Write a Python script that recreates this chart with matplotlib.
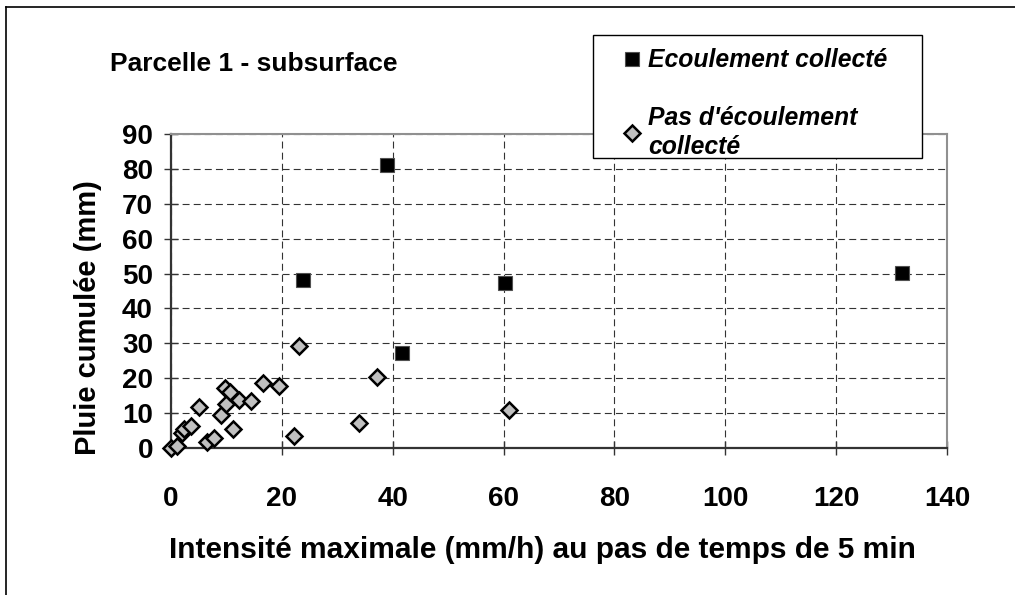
import matplotlib
matplotlib.use("Agg")
import matplotlib.pyplot as plt
from matplotlib.lines import Line2D
from matplotlib.patches import Rectangle

plt.rcParams['font.family'] = ['Liberation Sans', 'DejaVu Sans']
plt.rcParams['lines.scale_dashes'] = False

# Data
flow_x = [23.8, 39.0, 41.6, 60.2, 131.8]
flow_y = [48.1, 81.0, 27.1, 47.4, 50.1]

noflow_x = [0.0, 1.0, 2.0, 2.4, 3.6, 5.0, 6.5, 7.8, 9.1, 9.9, 9.7, 10.6, 11.2,
            12.3, 14.5, 16.6, 19.4, 22.2, 23.1, 33.9, 37.2, 61.0]
noflow_y = [0.0, 0.6, 4.4, 5.4, 6.4, 11.8, 1.6, 3.0, 9.5, 12.6, 17.3, 16.0, 5.4,
            13.7, 13.5, 18.7, 17.8, 3.3, 29.2, 7.3, 20.4, 10.9]

x_ticks = [0, 20, 40, 60, 80, 100, 120, 140]
y_ticks = [0, 10, 20, 30, 40, 50, 60, 70, 80, 90]

W, H = 1015, 595
fig = plt.figure(figsize=(W / 100, H / 100), dpi=100)
ax = fig.add_axes([171 / W, (H - 448) / H, (947 - 171) / W, (448 - 134) / H])

ax.plot(noflow_x, noflow_y, 'D', ms=8, mfc='#c0c0c0', mec='black', mew=1.8,
        label="Pas d'écoulement\ncollecté", zorder=3, clip_on=False)
ax.plot(flow_x, flow_y, 's', ms=10, mfc='black', mec='#505050', mew=0.8,
        label='Ecoulement collecté', zorder=4, clip_on=False)

ax.set_xlim(0, 140)
ax.set_ylim(0, 90)
ax.set_xticks(x_ticks)
ax.set_yticks(y_ticks)

ax.grid(True, color='#333333', lw=0.8, linestyle=(0, (5, 3)))
ax.set_axisbelow(True)

for s in ['top', 'right']:
    ax.spines[s].set_color('#909090')
    ax.spines[s].set_linewidth(1.5)
for s in ['left', 'bottom']:
    ax.spines[s].set_color('#333333')
    ax.spines[s].set_linewidth(1.6)

ax.tick_params(direction='inout', length=10, width=1, color='#333333',
               labelsize=20)
ax.tick_params(axis='x', pad=22)
ax.tick_params(axis='y', pad=8)
for lab in ax.get_xticklabels() + ax.get_yticklabels():
    lab.set_fontweight('bold')

ax.set_xlabel('Intensité maximale (mm/h) au pas de temps de 5 min',
              fontsize=21.5, fontweight='bold')
ax.xaxis.set_label_coords((542 - 171) / 776, (448 - 536) / 314)
ax.set_ylabel('Pluie cumulée (mm)', fontsize=21, fontweight='bold')
ax.yaxis.set_label_coords((102 - 171) / 776, (448 - 318) / 314)

fig.text(110 / W, 1 - 71 / H, 'Parcelle 1 - subsurface', fontsize=19,
         fontweight='bold', va='baseline', ha='left')

# legend box drawn separately, entries placed inside it
fig.add_artist(Rectangle((593 / W, 1 - 158 / H), (922 - 593) / W, 123 / H,
                         transform=fig.transFigure, facecolor='white',
                         edgecolor='black', lw=1.0, zorder=4))
h, l = ax.get_legend_handles_labels()
leg = fig.legend(h[::-1], l[::-1], loc='upper left',
                 bbox_to_anchor=(593 / W, 1 - 38 / H),
                 frameon=False, borderpad=0.42,
                 borderaxespad=0, handlelength=2.35, handletextpad=-0.55,
                 labelspacing=1.35,
                 prop={'size': 17.8, 'weight': 'bold', 'style': 'italic'})
for t in leg.get_texts():
    t.set_linespacing(1.25)

# outer frame (top and left edges visible)
fig.add_artist(Line2D([6 / W, 6 / W], [0, 1 - 7 / H], color='black', lw=1.2))
fig.add_artist(Line2D([6 / W, 1], [1 - 7 / H, 1 - 7 / H], color='black', lw=1.2))

fig.savefig('out.png', dpi=100)
